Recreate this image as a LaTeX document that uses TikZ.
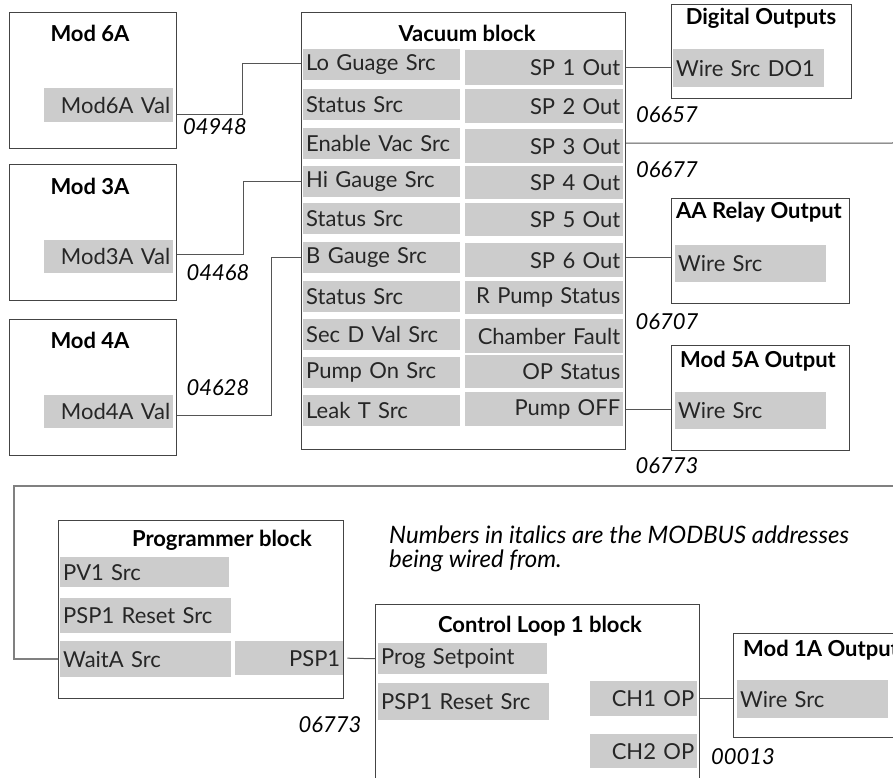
\documentclass[tikz,border=0pt]{standalone}
\usepackage{fontspec}
\setmainfont{Lato}
\usepackage{xcolor}
\usepackage{tikz}
\usetikzlibrary{positioning,calc}
\definecolor{fieldgrey}{HTML}{CCCCCC}
\definecolor{edge}{HTML}{444444}
\definecolor{wiregrey}{HTML}{555555}
\definecolor{longgrey}{HTML}{808080}

\begin{document}
\begin{tikzpicture}[
  x=1pt, y=-1pt,
  every node/.style={font=\fontsize{22pt}{26pt}\selectfont, text=black!85},
  blockbox/.style={rectangle, draw=edge, line width=1.1pt, anchor=north west, inner sep=0pt},
  title/.style={font=\fontsize{22pt}{26pt}\selectfont\bfseries, text=black, inner sep=0pt},
  field/.style={rectangle, fill=fieldgrey, anchor=north west, inner xsep=3pt, inner ysep=0pt},
  fieldl/.style={field, align=left},
  fieldr/.style={field, align=right},
  addr/.style={font=\fontsize{22pt}{26pt}\selectfont\itshape, text=black, inner sep=0pt},
  wire/.style={draw=wiregrey, line width=1pt},
  longwire/.style={draw=longgrey, line width=1.5pt}
]
\useasboundingbox (0,0) rectangle (893,778);
\clip (0,0) rectangle (893,778);

% input modules
\node[blockbox, minimum width=167pt, minimum height=136pt] (mod6) at (9,12) {};
\node[title] (mod6t) at (90,33) {Mod 6A};
\node[fieldr, text width=123pt, minimum height=34pt] (m6val) at (44,88) {Mod6A Val};

\node[blockbox, minimum width=167pt, minimum height=136pt] (mod3) at (9,164) {};
\node[title] (mod3t) at (90,186) {Mod 3A};
\node[fieldr, text width=123pt, minimum height=33pt] (m3val) at (44,240) {Mod3A Val};

\node[blockbox, minimum width=167pt, minimum height=136pt] (mod4) at (9,319) {};
\node[title] (mod4t) at (90,340) {Mod 4A};
\node[fieldr, text width=123pt, minimum height=33pt] (m4val) at (44,395) {Mod4A Val};

% vacuum block
\node[blockbox, minimum width=324pt, minimum height=437pt] (vac) at (301,12) {};
\node[title] (vact) at (467,33) {Vacuum block};
\node[fieldl, text width=151pt, minimum height=31pt] (lo) at (303,49) {Lo Guage Src};
\node[fieldl, text width=151pt, minimum height=31pt] (st1) at (303,89) {Status Src};
\node[fieldl, text width=151pt, minimum height=31pt] (envac) at (303,128) {Enable Vac Src};
\node[fieldl, text width=151pt, minimum height=31pt] (hi) at (303,166) {Hi Gauge Src};
\node[fieldl, text width=151pt, minimum height=31pt] (st2) at (303,203) {Status Src};
\node[fieldl, text width=151pt, minimum height=31pt] (bg) at (303,242) {B Gauge Src};
\node[fieldl, text width=151pt, minimum height=31pt] (st3) at (303,281) {Status Src};
\node[fieldl, text width=151pt, minimum height=31pt] (secd) at (303,319) {Sec D Val Src};
\node[fieldl, text width=151pt, minimum height=31pt] (pumpon) at (303,357) {Pump On Src};
\node[fieldl, text width=151pt, minimum height=31pt] (leak) at (303,395) {Leak T Src};

\node[fieldr, text width=152pt, minimum height=35pt] (sp1) at (465,50) {SP 1 Out};
\node[fieldr, text width=152pt, minimum height=34pt] (sp2) at (465,89) {SP 2 Out};
\node[fieldr, text width=152pt, minimum height=34pt] (sp3) at (465,129) {SP 3 Out};
\node[fieldr, text width=152pt, minimum height=33pt] (sp4) at (465,166) {SP 4 Out};
\node[fieldr, text width=152pt, minimum height=33pt] (sp5) at (465,203) {SP 5 Out};
\node[fieldr, text width=152pt, minimum height=34pt] (sp6) at (465,243) {SP 6 Out};
\node[fieldr, text width=152pt, minimum height=33pt] (rpump) at (465,281) {R Pump Status};
\node[fieldr, text width=152pt, minimum height=34pt] (chamber) at (465,319) {Chamber Fault};
\node[fieldr, text width=152pt, minimum height=33pt] (opstat) at (465,355) {OP Status};
\node[fieldr, text width=152pt, minimum height=34pt] (pumpoff) at (465,392) {Pump OFF};

% output modules
\node[blockbox, minimum width=180pt, minimum height=94pt] (dobox) at (671,4) {};
\node[title] (dot) at (761,18) {Digital Outputs};
\node[fieldl, text width=145pt, minimum height=38pt] (dofld) at (673,49) {Wire Src DO1};

\node[blockbox, minimum width=178pt, minimum height=105pt] (aabox) at (671,198) {};
\node[title] (aat) at (759,212) {AA Relay Output};
\node[fieldl, text width=145pt, minimum height=37pt] (aafld) at (675,245) {Wire Src};

\node[blockbox, minimum width=178pt, minimum height=105pt] (m5box) at (671,345) {};
\node[title] (m5t) at (758,361) {Mod 5A Output};
\node[fieldl, text width=145pt, minimum height=37pt] (m5fld) at (675,392) {Wire Src};

% programmer block
\node[blockbox, minimum width=285pt, minimum height=178pt] (prog) at (58,520) {};
\node[title] (progt) at (222,540) {Programmer block};
\node[fieldl, text width=163pt, minimum height=30pt] (pv1) at (60,557) {PV1 Src};
\node[fieldl, text width=165pt, minimum height=35pt] (pspreset) at (60,598) {PSP1 Reset Src};
\node[fieldl, text width=165pt, minimum height=36pt] (waita) at (60,641) {WaitA Src};
\node[fieldr, text width=102pt, minimum height=34pt] (psp1) at (235,641) {PSP1};

\node[anchor=west, align=left, inner sep=0pt, font=\fontsize{24pt}{24pt}\selectfont\itshape, text=black] (note) at (389,549) {Numbers in italics are the MODBUS addresses\\being wired from.};

% control loop block
\node[blockbox, minimum width=324pt, minimum height=250pt] (loop) at (375,604) {};
\node[title] (loopt) at (540,626) {Control Loop 1 block};
\node[fieldl, text width=163pt, minimum height=31pt] (progsp) at (378,643) {Prog Setpoint};
\node[fieldl, text width=165pt, minimum height=37pt] (lpreset) at (378,683) {PSP1 Reset Src};
\node[fieldr, text width=101pt, minimum height=35pt] (ch1) at (590,681) {CH1 OP};
\node[fieldr, text width=101pt, minimum height=34pt] (ch2) at (590,734) {CH2 OP};

\node[blockbox, minimum width=200pt, minimum height=104pt] (m1box) at (733,633) {};
\node[title, anchor=west] (m1t) at (743,650) {Mod 1A Output};
\node[fieldl, text width=145pt, minimum height=38pt] (m1fld) at (737,680) {Wire Src};

% modbus addresses
\node[addr] (a04948) at (215,127) {04948};
\node[addr] (a04468) at (218,273) {04468};
\node[addr] (a04628) at (218,388) {04628};
\node[addr] (a06657) at (667,115) {06657};
\node[addr] (a06677) at (667,170) {06677};
\node[addr] (a06707) at (667,322) {06707};
\node[addr] (a06773) at (667,466) {06773};
\node[addr] (b06773) at (330,725) {06773};
\node[addr] (a00013) at (743,757) {00013};

\coordinate (sp3end) at (893,143);
\coordinate (farend) at (893,486);
\coordinate (bend) at (14,486);

% wiring
\draw[wire] ([yshift=-9pt]m6val.east -| mod6.east) -- ++(65,0) |- ([yshift=1pt]lo.west -| vac.west);
\draw[wire] ([yshift=2pt]m3val.east -| mod3.east) -- ++(66,0) |- (hi.west -| vac.west);
\draw[wire] ([yshift=-4pt]m4val.east -| mod4.east) -- ++(94,0) |- (bg.west -| vac.west);
\draw[wire] (sp1.east -| vac.east) -- (sp1.east -| dobox.west);
\draw[wire] ([yshift=3pt]sp3.east -| vac.east) -- (sp3end);
\draw[wire] ([yshift=3pt]sp6.east -| vac.east) -- ([yshift=3pt]sp6.east -| aabox.west);
\draw[wire] (pumpoff.east -| vac.east) -- (pumpoff.east -| m5box.west);
\draw[longwire] (farend) -- (bend) |- (waita.west -| prog.west);
\draw[wire] ([xshift=4pt]psp1.east) -- (progsp.west -| loop.west);
\draw[wire] (ch1.east -| loop.east) -- (ch1.east -| m1box.west);
\end{tikzpicture}
\end{document}
